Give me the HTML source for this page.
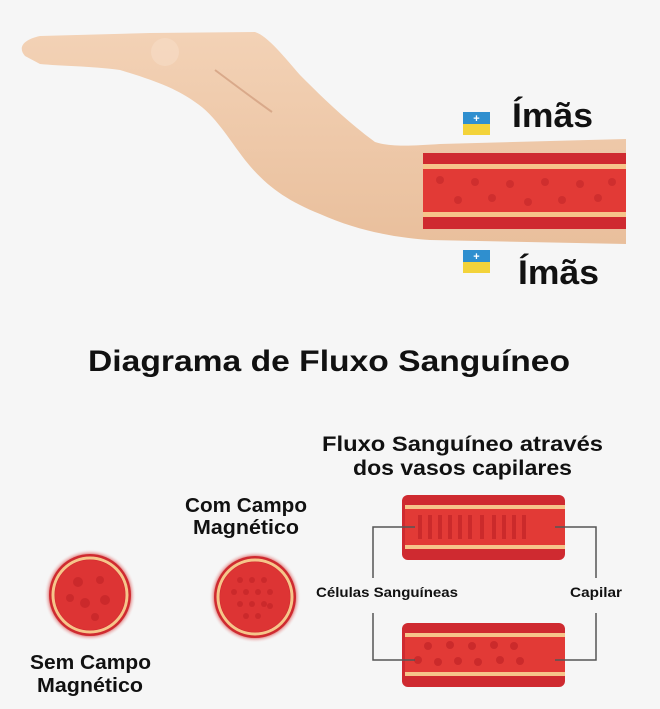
<!DOCTYPE html>
<html><head><meta charset="utf-8"><style>
html,body{margin:0;padding:0;background:#f6f6f6;}
svg{display:block;}
text{font-family:"Liberation Sans",sans-serif;font-weight:bold;fill:#111;}
</style></head><body>
<svg width="660" height="709" viewBox="0 0 660 709" xmlns="http://www.w3.org/2000/svg">
<defs>
<linearGradient id="skin" x1="0" y1="0" x2="0" y2="1">
<stop offset="0" stop-color="#f3d2b6"/><stop offset="1" stop-color="#e9bf9c"/>
</linearGradient>
<radialGradient id="glow" cx="0.5" cy="0.5" r="0.5">
<stop offset="0.85" stop-color="#d63a3a"/><stop offset="1" stop-color="#f6f6f6" stop-opacity="0"/>
</radialGradient>
</defs>
<rect width="660" height="709" fill="#f6f6f6"/>
<!-- hand -->
<path d="M25,56 C18,48 22,40 40,36 L150,33 L255,32 C268,36 285,58 300,75 C320,95 345,120 375,142 C390,147 410,146 440,144 L626,139 L626,244 L430,240 C400,238 360,232 320,214 C285,200 265,185 245,160 C228,138 215,115 195,102 C178,90 160,82 120,70 C90,66 60,66 40,64 Z" fill="url(#skin)"/>
<path d="M215,70 C235,85 255,100 272,112" stroke="#d9a98a" stroke-width="2" fill="none"/>
<ellipse cx="165" cy="52" rx="14" ry="14" fill="#f6dcc6" opacity="0.6"/>
<!-- arm vessel -->
<rect x="423" y="153" width="203" height="76" fill="#cf2a30"/>
<rect x="423" y="164" width="203" height="5" fill="#f6c58a"/>
<rect x="423" y="212" width="203" height="5" fill="#f6c58a"/>
<rect x="423" y="169" width="203" height="43" fill="#e23a36"/>
<g fill="#c72a2c" opacity="0.7">
<circle cx="440" cy="180" r="4"/><circle cx="458" cy="200" r="4"/><circle cx="475" cy="182" r="4"/><circle cx="492" cy="198" r="4"/><circle cx="510" cy="184" r="4"/><circle cx="528" cy="202" r="4"/><circle cx="545" cy="182" r="4"/><circle cx="562" cy="200" r="4"/><circle cx="580" cy="184" r="4"/><circle cx="598" cy="198" r="4"/><circle cx="612" cy="182" r="4"/>
</g>
<!-- magnets -->
<rect x="463" y="112" width="27" height="12" fill="#2f8fcf"/><rect x="463" y="124" width="27" height="11" fill="#f3d33a"/>
<text x="476.5" y="122" font-size="11" text-anchor="middle" style="fill:#fff">+</text>
<rect x="463" y="250" width="27" height="12" fill="#2f8fcf"/><rect x="463" y="262" width="27" height="11" fill="#f3d33a"/>
<text x="476.5" y="260" font-size="11" text-anchor="middle" style="fill:#fff">+</text>
<text x="512" y="127" font-size="34" textLength="81" lengthAdjust="spacingAndGlyphs">Ímãs</text>
<text x="518" y="284" font-size="34" textLength="81" lengthAdjust="spacingAndGlyphs">Ímãs</text>
<!-- title -->
<text x="88" y="371" font-size="30" textLength="482" lengthAdjust="spacingAndGlyphs">Diagrama de Fluxo Sanguíneo</text>
<text x="322" y="451" font-size="21" textLength="281" lengthAdjust="spacingAndGlyphs">Fluxo Sanguíneo através</text>
<text x="353" y="475" font-size="21" textLength="219" lengthAdjust="spacingAndGlyphs">dos vasos capilares</text>
<text x="185" y="512" font-size="20" textLength="122" lengthAdjust="spacingAndGlyphs">Com Campo</text>
<text x="193" y="534" font-size="20" textLength="106" lengthAdjust="spacingAndGlyphs">Magnético</text>
<text x="30" y="669" font-size="20" textLength="121" lengthAdjust="spacingAndGlyphs">Sem Campo</text>
<text x="37" y="692" font-size="20" textLength="106" lengthAdjust="spacingAndGlyphs">Magnético</text>
<text x="316" y="597" font-size="14" textLength="142" lengthAdjust="spacingAndGlyphs">Células Sanguíneas</text>
<text x="570" y="597" font-size="14" textLength="52" lengthAdjust="spacingAndGlyphs">Capilar</text>
<!-- circles -->
<circle cx="90" cy="595" r="46" fill="url(#glow)"/>
<circle cx="90" cy="595" r="41" fill="#cf2a30"/>
<circle cx="90" cy="595" r="37" fill="none" stroke="#f6c58a" stroke-width="3"/>
<circle cx="90" cy="595" r="35" fill="#dd3434"/>
<g fill="#c42528" opacity="0.7"><circle cx="78" cy="582" r="5"/><circle cx="100" cy="580" r="4"/><circle cx="85" cy="603" r="5"/><circle cx="105" cy="600" r="5"/><circle cx="70" cy="598" r="4"/><circle cx="95" cy="617" r="4"/></g>
<circle cx="255" cy="597" r="46" fill="url(#glow)"/>
<circle cx="255" cy="597" r="41" fill="#cf2a30"/>
<circle cx="255" cy="597" r="37" fill="none" stroke="#f6c58a" stroke-width="3"/>
<circle cx="255" cy="597" r="35" fill="#dd3434"/>
<g fill="#c42528" opacity="0.7">
<circle cx="240" cy="580" r="3"/><circle cx="252" cy="580" r="3"/><circle cx="264" cy="580" r="3"/><circle cx="234" cy="592" r="3"/><circle cx="246" cy="592" r="3"/><circle cx="258" cy="592" r="3"/><circle cx="270" cy="592" r="3"/><circle cx="240" cy="604" r="3"/><circle cx="252" cy="604" r="3"/><circle cx="264" cy="604" r="3"/><circle cx="246" cy="616" r="3"/><circle cx="258" cy="616" r="3"/><circle cx="270" cy="606" r="3"/>
</g>
<!-- capillary vessels -->
<g>
<rect x="402" y="495" width="163" height="65" rx="6" fill="#cf2a30"/>
<rect x="405" y="505" width="160" height="4" fill="#f6c58a"/>
<rect x="405" y="545" width="160" height="4" fill="#f6c58a"/>
<rect x="405" y="509" width="160" height="36" fill="#e23a36"/>
<g fill="#c42528" opacity="0.75">
<rect x="418" y="515" width="4" height="24"/><rect x="428" y="515" width="4" height="24"/><rect x="438" y="515" width="4" height="24"/><rect x="448" y="515" width="4" height="24"/><rect x="458" y="515" width="4" height="24"/><rect x="468" y="515" width="4" height="24"/><rect x="480" y="515" width="4" height="24"/><rect x="492" y="515" width="4" height="24"/><rect x="502" y="515" width="4" height="24"/><rect x="512" y="515" width="4" height="24"/><rect x="522" y="515" width="4" height="24"/>
</g>
<rect x="402" y="623" width="163" height="64" rx="6" fill="#cf2a30"/>
<rect x="405" y="633" width="160" height="4" fill="#f6c58a"/>
<rect x="405" y="672" width="160" height="4" fill="#f6c58a"/>
<rect x="405" y="637" width="160" height="35" fill="#e23a36"/>
<g fill="#c42528" opacity="0.75">
<circle cx="418" cy="660" r="4"/><circle cx="438" cy="662" r="4"/><circle cx="458" cy="661" r="4"/><circle cx="478" cy="662" r="4"/><circle cx="500" cy="660" r="4"/><circle cx="520" cy="661" r="4"/><circle cx="428" cy="646" r="4"/><circle cx="450" cy="645" r="4"/><circle cx="472" cy="646" r="4"/><circle cx="494" cy="645" r="4"/><circle cx="514" cy="646" r="4"/>
</g>
</g>
<!-- connectors -->
<g stroke="#555" stroke-width="1.5" fill="none">
<path d="M415,527 H373 V578"/><path d="M373,613 V660 H415"/>
<path d="M555,527 H596 V578"/><path d="M596,613 V660 H555"/>
</g>
</svg>
</body></html>
